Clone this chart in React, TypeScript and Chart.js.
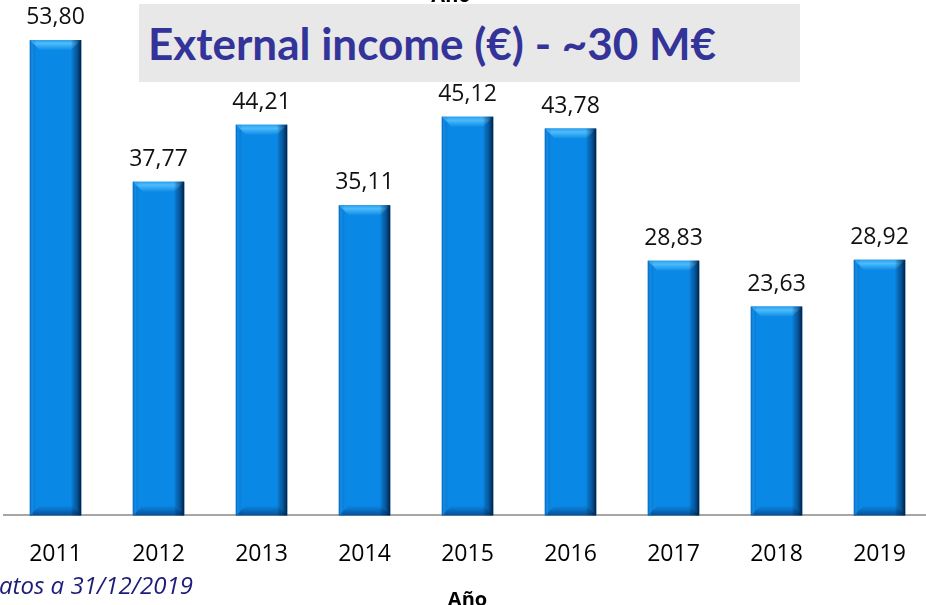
import React, { useEffect, useRef } from "react";
import { Chart, registerables } from "chart.js";

Chart.register(...registerables);

const years = ["2011", "2012", "2013", "2014", "2015", "2016", "2017", "2018", "2019"];
const income = [53.8, 37.77, 44.21, 35.11, 45.12, 43.78, 28.83, 23.63, 28.92];
const titleText = "External income (€) - ~30 M€";
const axisTitle = "Año";
const footnote = "Datos a 31/12/2019";

const LABEL_FONT = '"Open Sans", "Liberation Sans", sans-serif';

const fmt = (v: number) => v.toFixed(2).replace(".", ",");

const bevelPlugin = {
  id: "bevel",
  afterDatasetsDraw(chart: any) {
    const ctx = chart.ctx as CanvasRenderingContext2D;
    const meta = chart.getDatasetMeta(0);
    meta.data.forEach((bar: any, i: number) => {
      const { x, y, base, width } = bar.getProps(["x", "y", "base", "width"], true);
      const l = x - width / 2;
      const r = x + width / 2;
      const t = y;
      const b = base;
      const bev = 10;
      ctx.save();
      const gt = ctx.createLinearGradient(0, t, 0, t + bev);
      gt.addColorStop(0, "#2aa0ee");
      gt.addColorStop(0.35, "#4cbcfb");
      gt.addColorStop(1, "#0f8ce8");
      ctx.fillStyle = gt;
      ctx.beginPath();
      ctx.moveTo(l, t);
      ctx.lineTo(r, t);
      ctx.lineTo(r - bev, t + bev);
      ctx.lineTo(l + bev, t + bev);
      ctx.closePath();
      ctx.fill();
      const gb = ctx.createLinearGradient(0, b - bev, 0, b);
      gb.addColorStop(0, "rgba(4,70,140,0)");
      gb.addColorStop(1, "rgba(4,60,120,0.75)");
      ctx.fillStyle = gb;
      ctx.beginPath();
      ctx.moveTo(l + bev, b - bev);
      ctx.lineTo(r - bev, b - bev);
      ctx.lineTo(r, b);
      ctx.lineTo(l, b);
      ctx.closePath();
      ctx.fill();
      const gs = ctx.createLinearGradient(l, 0, r, 0);
      gs.addColorStop(0, "rgba(0,70,140,0.55)");
      gs.addColorStop(0.05, "rgba(40,150,240,0.25)");
      gs.addColorStop(0.12, "rgba(0,0,0,0)");
      gs.addColorStop(0.8, "rgba(0,0,0,0)");
      gs.addColorStop(0.9, "rgba(0,40,90,0.45)");
      gs.addColorStop(1, "rgba(0,20,45,0.9)");
      ctx.fillStyle = gs;
      ctx.fillRect(l, t, width, b - t);
      ctx.fillStyle = "#111";
      ctx.font = `23px ${LABEL_FONT}`;
      ctx.textAlign = "center";
      ctx.textBaseline = "alphabetic";
      ctx.fillText(fmt(income[i]), x, t - 16);
      ctx.restore();
    });
    ctx.save();
    ctx.fillStyle = "#000";
    ctx.font = `bold 20px ${LABEL_FONT}`;
    ctx.textAlign = "center";
    ctx.textBaseline = "alphabetic";
    ctx.fillText(axisTitle, 451, 2);
    ctx.restore();
  },
};

export default function App() {
  const ref = useRef<HTMLCanvasElement | null>(null);

  useEffect(() => {
    if (!ref.current) return;
    const chart = new Chart(ref.current, {
      type: "bar",
      data: {
        labels: years,
        datasets: [
          {
            data: income,
            backgroundColor: "#0a88e6",
            borderWidth: 0,
            barPercentage: 0.5,
            categoryPercentage: 1,
          },
        ],
      },
      options: {
        responsive: false,
        animation: false,
        devicePixelRatio: 1,
        layout: { padding: { left: 4, right: 3, top: 0, bottom: 0 } },
        plugins: {
          legend: { display: false },
          tooltip: { enabled: false },
          title: { display: false },
        },
        scales: {
          y: {
            display: false,
            min: 0,
            max: 58.33,
          },
          x: {
            grid: { display: false, drawTicks: false },
            border: { display: true, color: "#a6a6a6", width: 2 },
            ticks: {
              color: "#000",
              padding: 25,
              font: { family: LABEL_FONT, size: 23 },
            },
            title: {
              display: true,
              text: axisTitle,
              color: "#000",
              padding: { top: 0, bottom: 0 },
              font: { family: LABEL_FONT, size: 20, weight: "bold", lineHeight: 0.7 },
            },
          },
        },
      },
      plugins: [bevelPlugin],
    });
    return () => chart.destroy();
  }, []);

  return (
    <div
      style={{
        position: "fixed",
        left: 0,
        top: 0,
        width: 926,
        height: 605,
        overflow: "hidden",
        background: "#fff",
      }}
    >
      <canvas
        ref={ref}
        width={934}
        height={607}
        style={{ position: "absolute", left: 0, top: 0, width: 934, height: 607 }}
      />
      <div
        style={{
          position: "absolute",
          left: 139,
          top: 4,
          width: 661,
          height: 78,
          background: "#e8e8e8",
          display: "flex",
          alignItems: "center",
          boxSizing: "border-box",
          paddingLeft: 9,
        }}
      >
        <span
          style={{
            fontFamily: "Lato, 'Open Sans', sans-serif",
            fontWeight: 700,
            fontSize: 44,
            color: "#333399",
            whiteSpace: "nowrap",
          }}
        >
          {titleText}
        </span>
      </div>
      <div
        style={{
          position: "absolute",
          left: -17,
          top: 568,
          fontFamily: LABEL_FONT,
          fontStyle: "italic",
          fontSize: 24,
          color: "#1c1c7a",
          whiteSpace: "nowrap",
        }}
      >
        {footnote}
      </div>
    </div>
  );
}
